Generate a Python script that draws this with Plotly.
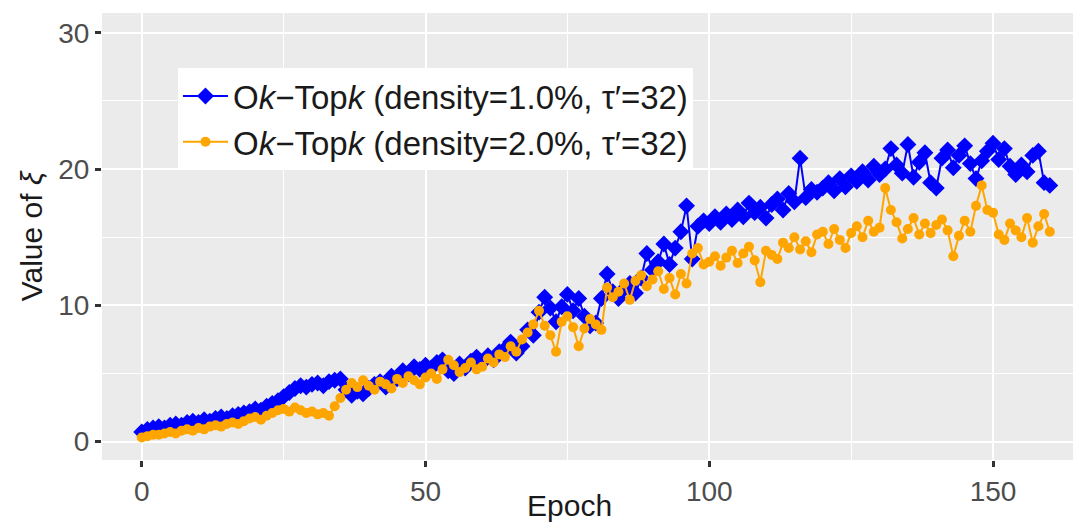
import plotly.graph_objects as go

epochs = list(range(161))

xi_density_1 = [
    0.7, 0.9, 1.0, 1.1, 1.0, 1.2, 1.3, 1.2, 1.4, 1.5,
    1.4, 1.6, 1.5, 1.7, 1.8, 1.7, 1.9, 2.0, 2.1, 2.2,
    2.4, 2.3, 2.6, 2.8, 3.0, 3.3, 3.6, 3.9, 4.1, 4.0,
    4.2, 4.3, 4.1, 4.4, 4.5, 4.6, 3.8, 3.4, 3.7, 3.5,
    3.9, 4.2, 4.4, 4.0, 4.8, 4.6, 5.2, 5.0, 5.5, 5.3,
    5.6, 5.4, 5.8, 6.0, 5.2, 5.0, 5.7, 5.4, 5.9, 6.2,
    5.8, 6.3, 6.0, 6.6, 6.8, 7.3, 6.5, 7.0, 8.2, 7.8,
    9.5, 10.6, 9.8, 8.8, 9.9, 10.8, 9.6, 10.5, 9.2, 8.5,
    8.7, 10.5, 12.3, 11.0, 10.5, 11.2, 11.6, 10.9, 12.0, 13.8,
    12.6, 13.2, 14.5, 13.0, 14.2, 15.4, 17.3, 13.4, 15.8, 16.2,
    16.0, 16.5, 16.1, 16.7, 16.3, 17.0, 16.5, 17.5, 16.8, 17.2,
    16.4, 17.4, 17.8, 17.0, 18.2, 17.6, 20.8, 17.9, 18.5, 18.3,
    18.6, 19.0, 18.4, 19.3, 18.7, 19.5, 19.1, 19.8, 19.2, 20.2,
    19.6, 20.0, 21.5, 20.3, 19.7, 21.8, 19.4, 20.5, 21.2, 19.0,
    18.6, 20.8, 21.4, 20.1, 21.0, 21.7, 20.4, 19.3, 20.6, 21.3,
    21.9, 20.7, 21.5, 20.2, 19.6, 20.3, 19.8, 21.0, 21.3, 19.0,
    18.8,
]

xi_density_2 = [
    0.3, 0.4, 0.5, 0.5, 0.6, 0.7, 0.6, 0.8, 0.9, 0.8,
    1.0, 0.9, 1.1, 1.2, 1.1, 1.3, 1.4, 1.3, 1.5, 1.7,
    1.8, 1.6, 1.9, 2.1, 2.3, 2.4, 2.2, 2.5, 2.3, 2.1,
    2.2, 2.0, 2.1, 1.9, 2.6, 3.2, 3.8, 4.3, 4.0, 4.5,
    4.1, 3.8, 4.4, 4.2, 3.9, 4.6, 4.3, 4.8, 4.5, 4.2,
    4.7, 5.0, 4.6, 5.3, 6.0, 5.6, 5.1, 5.4, 5.8, 5.3,
    5.5, 6.1, 5.8, 6.4, 6.2, 7.0, 6.6, 7.5, 8.0, 8.6,
    9.6, 8.5, 7.8, 6.6, 8.8, 9.2, 8.4, 7.0, 8.3, 9.0,
    8.6, 8.2, 11.3, 10.6, 11.0, 11.6, 10.4, 11.8, 12.2, 11.4,
    11.9, 12.5, 11.2, 12.0, 10.8, 12.3, 11.6, 13.8, 14.2, 13.0,
    13.2, 13.6, 12.9, 13.5, 14.0, 13.1, 13.8, 14.3, 13.3, 11.7,
    14.0, 13.7, 13.4, 14.6, 14.2, 15.0, 14.1, 14.7, 13.9, 15.2,
    15.4, 14.5, 15.6, 14.8, 14.2, 15.3, 15.8, 15.0, 16.2, 15.4,
    15.7, 18.6, 17.0, 16.1, 14.9, 15.6, 16.4, 15.2, 16.0, 15.3,
    15.9, 16.3, 15.5, 13.6, 15.1, 16.2, 15.4, 17.3, 18.8, 17.0,
    16.8, 15.2, 14.8, 16.0, 15.5, 15.0, 16.4, 14.6, 15.8, 16.7,
    15.4,
]

x_ticks = [0, 50, 100, 150]
y_ticks = [0, 10, 20, 30]

names = [
    "O<i>k</i>\u2212Top<i>k</i> (density=1.0%, \u03c4\u2032=32)",
    "O<i>k</i>\u2212Top<i>k</i> (density=2.0%, \u03c4\u2032=32)",
]

fig = go.Figure()
fig.add_trace(go.Scatter(
    x=epochs, y=xi_density_1, mode="lines+markers", name=names[0],
    line=dict(color="#0000FF", width=2),
    marker=dict(symbol="diamond", size=13, color="#0000FF"),
))
fig.add_trace(go.Scatter(
    x=epochs, y=xi_density_2, mode="lines+markers", name=names[1],
    line=dict(color="#FFA500", width=2),
    marker=dict(symbol="circle", size=10, color="#FFA500"),
))

font_family = "Liberation Sans, Arial, sans-serif"

# The page body has an 8px margin, so the figure is drawn 8px smaller and
# the layout is shifted accordingly.
fig.update_layout(
    width=1073, height=514,
    margin=dict(l=94, r=0, t=5, b=62),
    paper_bgcolor="white",
    plot_bgcolor="#EBEBEB",
    font=dict(family=font_family, size=27, color="#4D4D4D"),
    showlegend=True,
    legend=dict(
        x=0.0776, y=0.877, xanchor="left", yanchor="top",
        bgcolor="white", borderwidth=0,
        font=dict(size=33, color="#1A1A1A"),
        itemwidth=45, tracegroupgap=0,
    ),
    annotations=[dict(
        text="Epoch", xref="paper", yref="paper", x=0.478, y=-0.14,
        xanchor="center", yanchor="bottom", showarrow=False,
        font=dict(size=30, color="#1A1A1A"),
        borderpad=0,
    )],
)

fig.update_xaxes(
    range=[-7, 165.5], automargin=False,
    tickvals=x_ticks, ticktext=[str(v) for v in x_ticks],
    showgrid=True, gridcolor="white", gridwidth=2.2,
    minor=dict(dtick=25, tick0=0, showgrid=True, gridcolor="white", gridwidth=1.1),
    zeroline=False, showline=False,
    ticks="outside", ticklen=6, tickwidth=2.5, tickcolor="#333333",
    tickfont=dict(size=28, color="#4D4D4D"),
)
fig.update_yaxes(
    range=[-1.35, 31.45], automargin=False,
    tickvals=y_ticks, ticktext=[str(v) for v in y_ticks],
    showgrid=True, gridcolor="white", gridwidth=2.2,
    minor=dict(dtick=5, tick0=0, showgrid=True, gridcolor="white", gridwidth=1.1),
    zeroline=False, showline=False,
    ticks="outside", ticklen=6, tickwidth=2.5, tickcolor="#333333",
    tickfont=dict(size=28, color="#4D4D4D"),
    title=dict(text="Value of <i>\u03be</i>", font=dict(size=30, color="#1A1A1A"), standoff=6),
)

fig.write_html("out.html")
